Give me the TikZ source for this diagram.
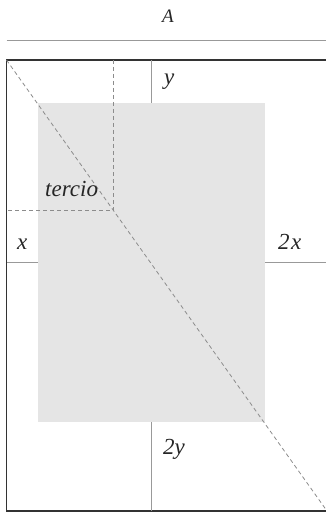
\documentclass[tikz,border=0pt]{standalone}
\usepackage{fontspec}
\setmainfont{Liberation Serif}
\usepackage{tikz}
\usetikzlibrary{positioning,calc}

\begin{document}
\begin{tikzpicture}[
    x=1pt, y=-1pt,
    font=\fontsize{23}{26}\selectfont\itshape,
    pagebox/.style  ={draw=black!80, line width=1.3pt, inner sep=0pt, outer sep=0pt},
    textblock/.style={fill=black!10, inner sep=0pt, outer sep=0pt},
    guide/.style    ={draw=black!40, line width=0.9pt},
    thirdline/.style={draw=black!45, dash pattern=on 4pt off 3pt, line width=0.8pt},
    lbl/.style      ={inner sep=0pt, text=black!85},
  ]
  \useasboundingbox (0,0) rectangle (325,513);
  % page and text block
  \node[textblock, minimum width=227pt, minimum height=319pt] (block) at (151.5, 262.5) {};
  \node[pagebox, minimum width=320.5pt, minimum height=451pt] (page) at (166.75, 285.5) {};
  \draw[guide] ([yshift=19.5pt]page.north west) -- ([yshift=19.5pt]page.north east);
  \node[lbl, anchor=base, font=\fontsize{19}{22}\selectfont\itshape] (title) at (168, 22.7) {A};
  % margins
  \draw[guide] (block.north) -- (block.north |- page.north);
  \draw[guide] (block.south) -- (block.south |- page.south);
  \draw[guide] (block.west)  -- (block.west -| page.west);
  \draw[guide] (block.east)  -- (block.east -| page.east);
  \node[lbl, anchor=base west] (ytop)   at (164, 85)  {y};
  \node[lbl, anchor=base west] (ybot)   at (163, 454) {2y};
  \node[lbl, anchor=base west] (xin)    at (17, 249)  {x};
  \node[lbl, anchor=base west] (xout)   at (278, 249) {2\kern1.5pt x};
  % diagonal and third
  \coordinate (third) at ($(page.north west)!1/3!(page.south east)$);
  \draw[thirdline] (page.north west) -- (page.south east);
  \draw[thirdline] (page.north west -| third) -- (third) -- (page.west |- third);
  \node[lbl, anchor=base west] (tercio) at (45, 196.7) {tercio};
\end{tikzpicture}
\end{document}
